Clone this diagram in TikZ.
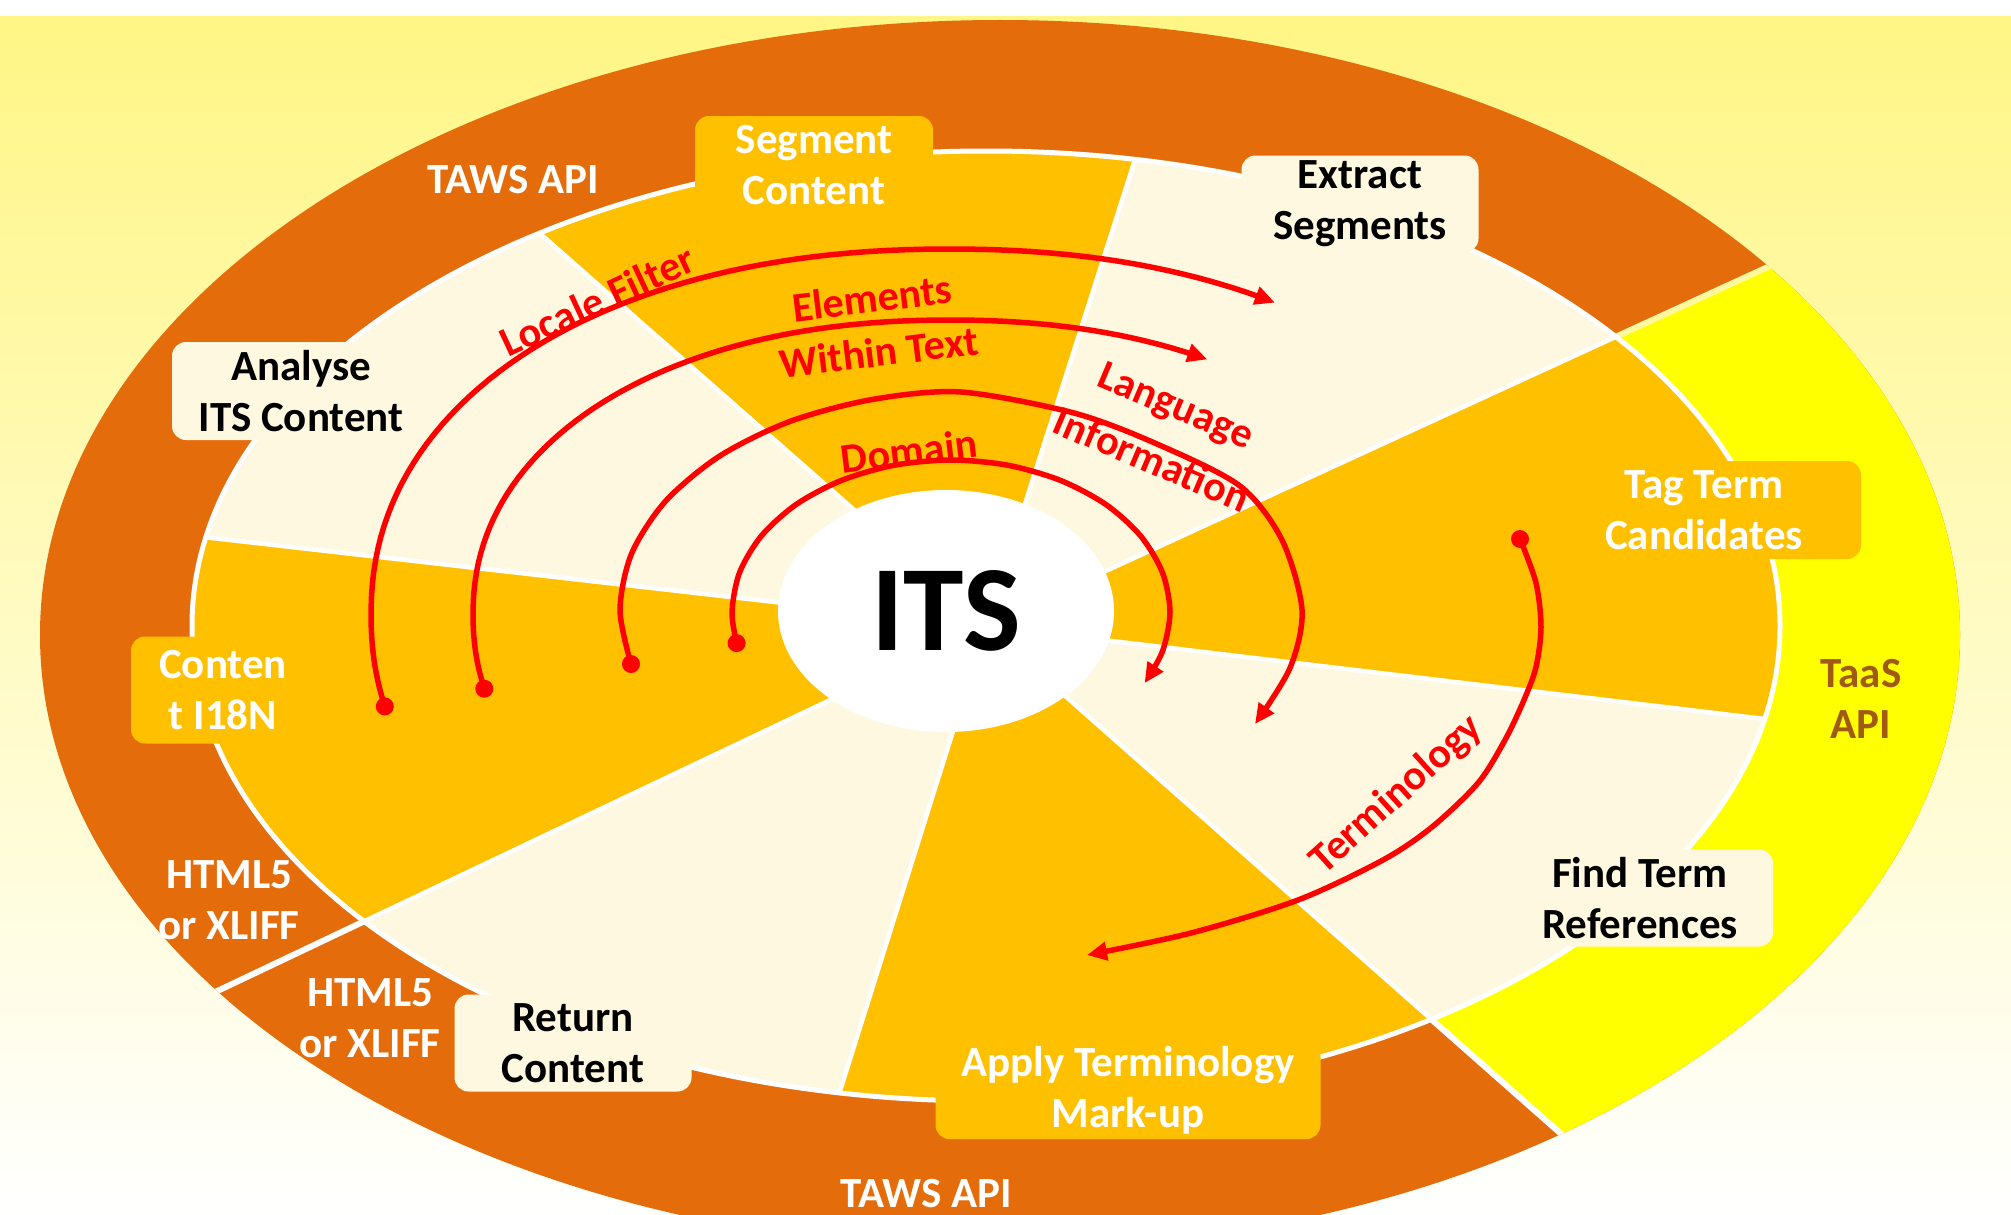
\documentclass[tikz,border=0pt]{standalone}
\usepackage{fontspec}
\setmainfont{Carlito}
\usetikzlibrary{arrows.meta,shapes.geometric}
\definecolor{orng}{RGB}{228,108,10}
\definecolor{gld}{RGB}{255,192,0}
\definecolor{crm}{RGB}{255,248,225}
\definecolor{ylw}{RGB}{255,255,0}
\definecolor{bgtop}{RGB}{255,246,133}
\definecolor{sepy}{RGB}{255,248,160}
\definecolor{taas}{RGB}{160,90,20}
\newcommand\lblfont{\fontsize{43}{51}\selectfont\bfseries}
\newcommand\redfont{\fontsize{42}{51}\selectfont\bfseries}
\tikzset{
  box/.style={rounded corners=14pt, inner sep=0pt, align=center, font=\lblfont},
  goldbox/.style={box, fill=gld, text=white},
  creambox/.style={box, fill=crm, text=black},
  ringtxt/.style={align=center, font=\lblfont, text=white, inner sep=0pt},
  redtxt/.style={align=center, font=\redfont, text=red, inner sep=0pt},
  arcline/.style={red, line width=5.5pt, -{Triangle[length=20pt,width=18pt]}},
  rayline/.style={white, line width=4.5pt},
}
\begin{document}
\begin{tikzpicture}[x=1pt,y=-1pt]
\useasboundingbox (0,0) rectangle (2011,1215);
% background
\fill[white] (0,0) rectangle (2011,1215);
\shade[top color=bgtop, bottom color=white] (0,17) rectangle (2011,1215);
% centre of the wedges and far points of the rays
\coordinate (C) at (986,626);
\coordinate (p1) at (-778,-926);
\coordinate (p2) at (1574,-1214);
\coordinate (p3) at (3486,-522);
\coordinate (p4) at (4102,998);
\coordinate (p5) at (2766,2198);
\coordinate (p6) at (402,2486);
\coordinate (p7) at (-1482,1798);
\coordinate (p8) at (-2110,274);
% outer ring
\fill[orng] (1000,635) ellipse [x radius=960pt, y radius=615pt];
\begin{scope}
  \clip (1000,635) ellipse [x radius=960pt, y radius=615pt];
  \fill[ylw] (C) -- (p3) -- (p4) -- (p5) -- cycle;
  \draw[sepy, line width=6pt] (C) -- (p3);
  \draw[white, line width=6pt] (C) -- (p5);
  \draw[white, line width=6pt] (C) -- (p7);
\end{scope}
% inner disk
\fill[crm] (986,626) ellipse [x radius=794pt, y radius=475pt];
\begin{scope}
  \clip (986,626) ellipse [x radius=794pt, y radius=475pt];
  \fill[gld] (C) -- (p1) -- (p2) -- cycle;
  \fill[gld] (C) -- (p3) -- (p4) -- cycle;
  \fill[gld] (C) -- (p5) -- (p6) -- cycle;
  \fill[gld] (C) -- (p7) -- (p8) -- cycle;
  \foreach \p in {p1,p2,p3,p4,p5,p6,p7,p8} \draw[rayline] (C) -- (\p);
\end{scope}
\draw[white, line width=5pt] (986,626) ellipse [x radius=794pt, y radius=475pt];
% centre
\node[ellipse, fill=white, minimum width=336pt, minimum height=242pt, inner sep=0pt,
      font=\fontsize{122}{122}\selectfont\bfseries] (its) at (946,611) {ITS};
% step boxes
\node[goldbox, minimum width=238pt, minimum height=98pt] (seg) at (814,165) {Segment\\Content};
\node[creambox, minimum width=237pt, minimum height=97pt] (ext) at (1360,204) {Extract\\Segments};
\node[goldbox, minimum width=314pt, minimum height=98pt] (tag) at (1704,510) {Tag Term\\Candidates};
\node[creambox, minimum width=266pt, minimum height=97pt] (fnd) at (1640,898) {Find Term\\References};
\node[goldbox, minimum width=385pt, minimum height=98pt] (app) at (1128,1090) {Apply Terminology\\Mark-up};
\node[creambox, minimum width=237pt, minimum height=97pt] (ret) at (573,1043) {Return\\Content};
\node[goldbox, minimum width=184pt, minimum height=107pt] (i18n) at (223,690) {Conten\\t I18N};
\node[creambox, minimum width=258pt, minimum height=98pt] (ana) at (301,391) {Analyse\\ITS Content};
% ring texts
\node[ringtxt] (taws1) at (513,180) {TAWS API};
\node[ringtxt] (taws2) at (926,1194) {TAWS API};
\node[ringtxt] (html1) at (229,900) {HTML5\\or XLIFF};
\node[ringtxt] (html2) at (370,1018) {HTML5\\or XLIFF};
\node[ringtxt, text=taas] (taas) at (1861,699) {TaaS\\API};
% red arcs
\coordinate (a1s) at (384.8,706.4);
\coordinate (a2s) at (484.3,688.7);
\coordinate (a3s) at (631,664);
\coordinate (a3e) at (1255,724);
\coordinate (a4s) at (736.6,643.1);
\coordinate (a4e) at (1144.6,683.1);
\coordinate (a5s) at (1520,539);
\coordinate (a5e) at (1087,955);
\draw[arcline] plot[domain=167:302.5, samples=80, variable=\t]
  ({950+579*cos(\t)*pow(abs(cos(\t))+0.00001,-0.07)}, {615+366*sin(\t)*pow(abs(sin(\t))+0.00001,-0.07)});
\draw[arcline] plot[domain=167:301, samples=80, variable=\t]
  ({950+477*cos(\t)*pow(abs(cos(\t))+0.00001,-0.07)}, {615+295*sin(\t)*pow(abs(sin(\t))+0.00001,-0.07)});
\draw[arcline] plot[smooth] coordinates {(a3s) (620,610) (631.6,553.6) (665.7,501) (719.9,455.9) (790.5,421.2) (872.7,399.4) (961,392) (1074,413) (1157,444) (1240,486) (1282,540) (1302,610) (1290,668) (a3e)};
\draw[arcline] plot[smooth] coordinates {(a4s) (732,612) (739.5,572.7) (761.3,536) (796.1,504.5) (841.5,480.4) (894.3,465.2) (951,460) (1007.7,465.2) (1060.5,480.4) (1105.9,504.5) (1140.7,536) (1162.5,572.7) (1170,612) (1162.5,651.3) (a4e)};
\draw[arcline] plot[smooth] coordinates {(a5s) (1536,583) (1541,627) (1536,667) (1524,700) (1505,740) (1478,783) (1432,827) (1383,860) (1298,900) (1191,933) (a5e)};
\foreach \s in {a1s,a2s,a3s,a4s,a5s} \fill[red] (\s) circle [radius=9pt];
% red labels
\node[redtxt, rotate=25] (lf) at (597,300) {Locale Filter};
\node[redtxt, rotate=7] (el) at (872,298) {Elements};
\node[redtxt, rotate=7] (wt) at (879,352) {Within Text};
\node[redtxt, rotate=7] (dm) at (909,451) {Domain};
\node[redtxt, rotate=-23] (lg) at (1175,408) {Language};
\node[redtxt, rotate=-23] (inf) at (1152,459) {Information};
\node[redtxt, rotate=42] (tm) at (1397,795) {Terminology};
\end{tikzpicture}
\end{document}
